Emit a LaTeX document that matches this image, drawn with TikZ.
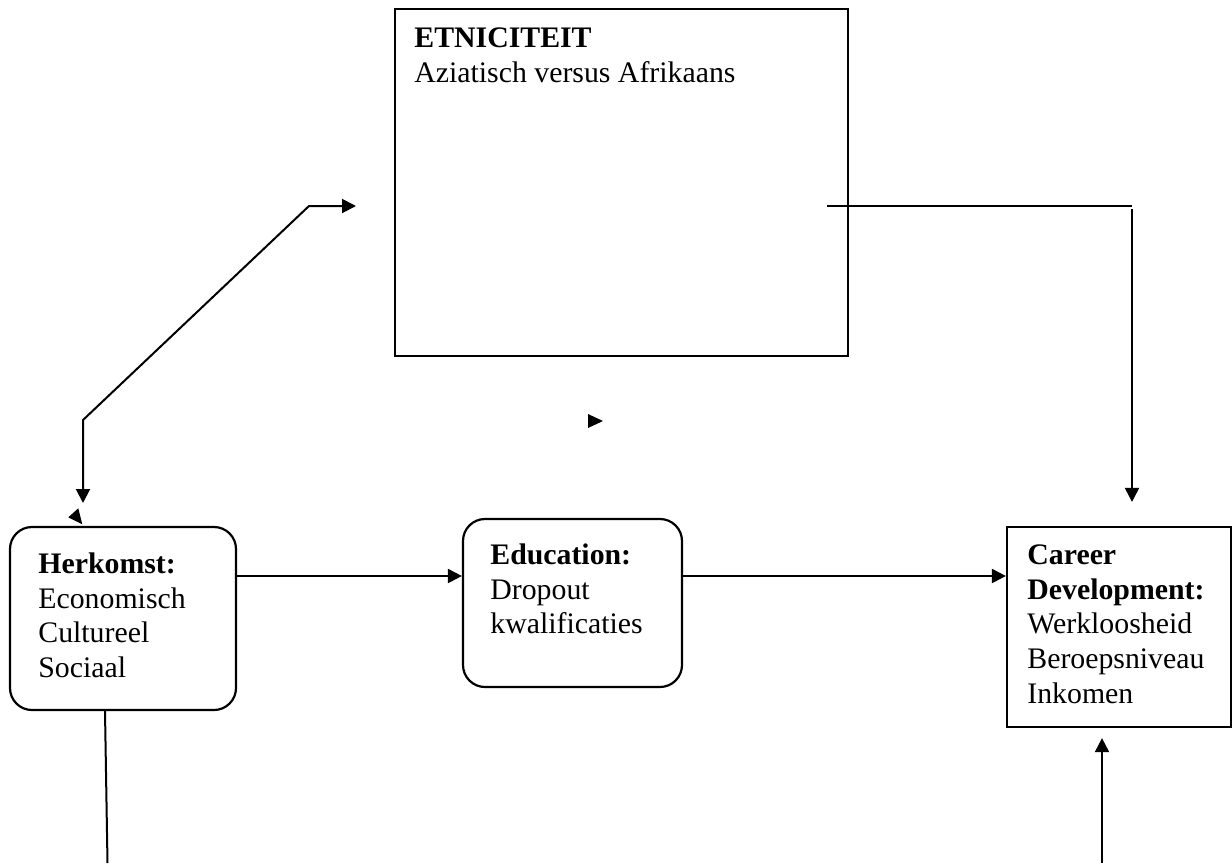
\documentclass[tikz,border=0pt]{standalone}
\usepackage{fontspec}
\setmainfont{Liberation Serif}
\usetikzlibrary{arrows.meta,calc}
\begin{document}
\begin{tikzpicture}[x=0.5pt,y=-0.5pt,
  box/.style={draw,line width=1.1pt,inner sep=0pt,minimum width=#1},
  roundbox/.style={box=#1,rounded corners=11pt},
  txt/.style={anchor=north west,inner sep=0pt,align=left,font=\fontsize{14.9}{17.35}\selectfont},
  conn/.style={line width=1pt},
  arr/.style={conn,-{Triangle[length=7pt,width=7pt]}},
  darr/.style={conn,{Triangle[length=7pt,width=7pt]}-{Triangle[length=7pt,width=7pt]}}]
\useasboundingbox (0,0) rectangle (1232,863);
% boxes
\node[box=453*0.5pt,minimum height=347*0.5pt] (ETN) at (621.5,182.5) {};
\node[roundbox=226*0.5pt,minimum height=183*0.5pt] (H) at (123,618.5) {};
\node[roundbox=219*0.5pt,minimum height=168*0.5pt] (E) at (572.5,603) {};
\node[box=224*0.5pt,minimum height=200*0.5pt] (C) at (1119,627) {};
% texts
\node[txt] (ETNt) at (414,22.7) {\strut\textbf{ETNICITEIT}\\Aziatisch versus Afrikaans};
\node[txt] (Ht) at (38,548.7) {\strut\textbf{Herkomst:}\\Economisch\\Cultureel\\Sociaal};
\node[txt] (Et) at (490,539.7) {\strut\textbf{Education:}\\Dropout\\kwalificaties};
\node[txt] (Ct) at (1027,539.7) {\strut\textbf{Career}\\\textbf{Development:}\\Werkloosheid\\Beroepsniveau\\Inkomen};
% named coordinates
\coordinate (row) at (0,576);
\coordinate (e1) at (827,206);
\coordinate (e2) at (1132,206);
\coordinate (e3) at (1132,209);
\coordinate (l1) at (83,503);
\coordinate (l2) at (83,420);
\coordinate (l3) at (309,206);
\coordinate (l4) at (356,206);
\coordinate (hbx) at (105,0);
\coordinate (hend) at (107.5,863);
\coordinate (cb) at (1102,863);
% connectors
\draw[arr] (H.east |- row) -- (E.west |- row);
\draw[arr] (E.east |- row) -- (C.west |- row);
\draw[conn] (e1) -- (e2);
\draw[arr] (e3) -- ($(C.north -| e3)+(0,-24)$);
\draw[darr] (l1) -- (l2) -- (l3) -- (l4);
\draw[conn] (H.south -| hbx) -- (hend);
\draw[arr] (cb) -- ($(C.south -| cb)+(0,10)$);
% stray arrowheads
\fill (588,414) -- (603,421) -- (588,428) -- cycle;
\fill (68.3,517.3) -- (78.3,508.3) -- (82.3,524.3) -- cycle;
\end{tikzpicture}
\end{document}
